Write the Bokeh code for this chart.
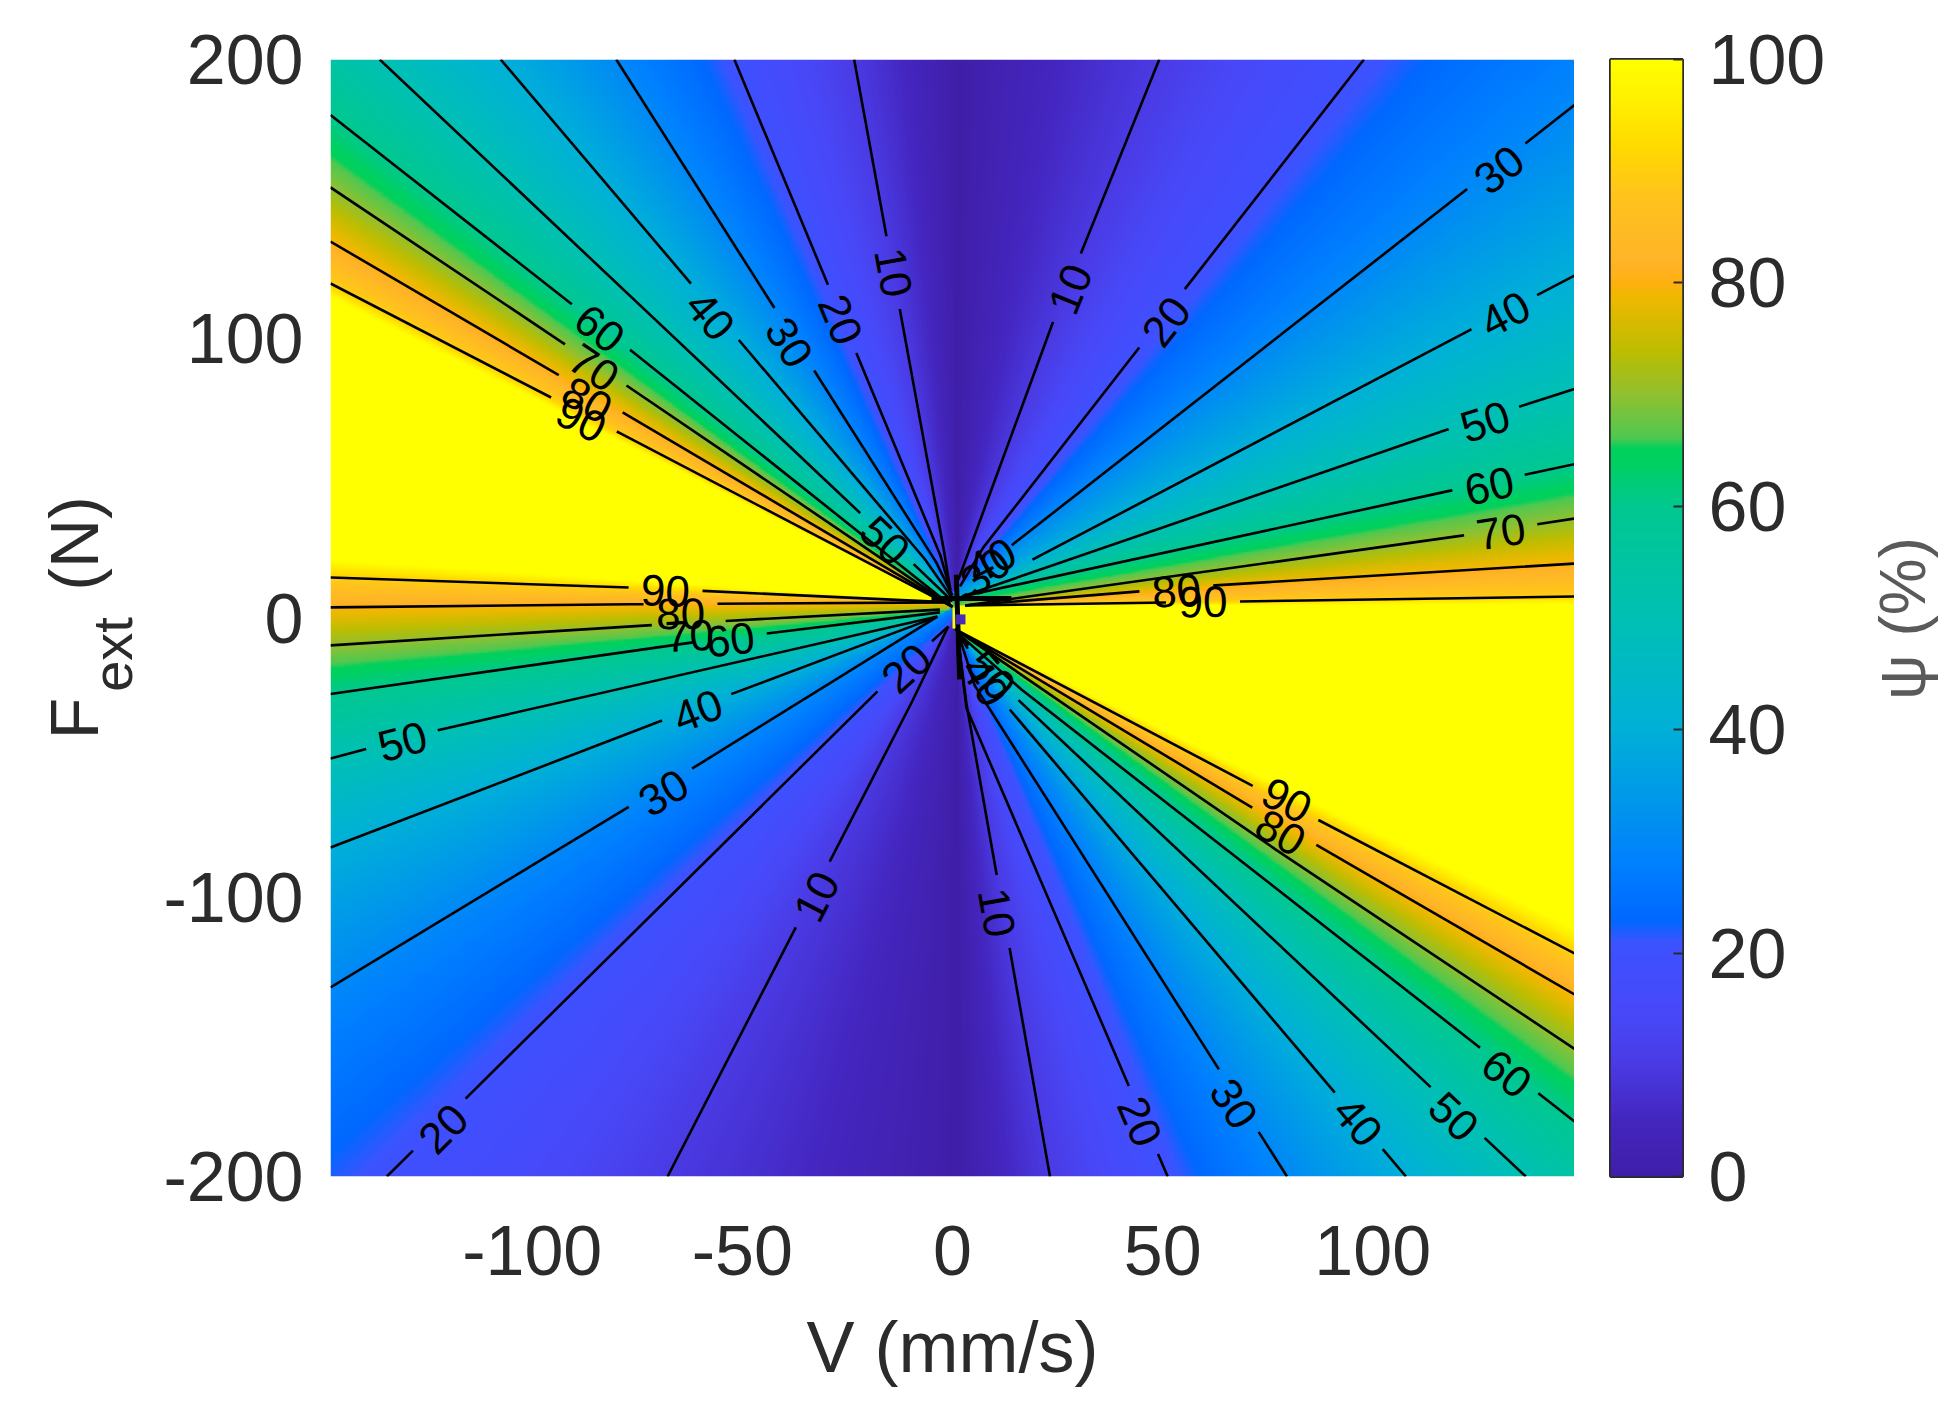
import numpy as np
from bokeh.plotting import figure
from bokeh.layouts import row
from bokeh.models import LinearColorMapper, FixedTicker
from bokeh.core.properties import value
from bokeh.embed import file_html
from bokeh.resources import INLINE

# ---------- data ----------
LEVELS = [10, 20, 30, 40, 50, 60, 70, 80, 90]
XLIM = (-148, 148)
YLIM = (-200, 200)
X_TICKS = [-100, -50, 0, 50, 100]
Y_TICKS = [-200, -100, 0, 100, 200]
CB_TICKS = [0, 20, 40, 60, 80, 100]

# contours per quadrant: border end, point along the way, end near the origin
UL_V = [-23.4, -51.9, -80.0, -107.5, -136.3, -148, -148, -148, -148]
UL_F = [200, 200, 200, 200, 200, 180.1, 154.2, 134.8, 119.8]
UL_MV = [-2.0, -2.9, -3.9, -6.7, -22.2, -76.2, -77.6, -78.5, -79.0]
UL_MF = [23.8, 22.5, 20.0, 21.3, 37.9, 95.4, 83.3, 73.6, 66.1]
UL_IV = [-0.5, -0.5, 0, 0, 0, 0, 0, 0, 0]
UL_IF = [10, 10, 8, 7, 6, 4, 4, 4, 4]

UR_V = [49.2, 97.9, 148, 148, 148, 148, 148, 148, 148]
UR_F = [200, 200, 183.7, 122.6, 82.0, 55.1, 35.6, 19.5, 7.7]
UR_MV = [23.7, 7.3, 14.9, 123.1, 117.4, 118.8, 121.2, 62.5, 67.0]
UR_MF = [105.1, 25.2, 27.0, 103.1, 67.3, 45.7, 29.5, 11.7, 5.9]
UR_IV = [1.4, 1.8, 1.8, 2.3, 2.3, 2.3, 3, 3, 3]
UR_IF = [13.8, 11.3, 11.3, 7.7, 7.7, 7.7, 4.5, 4.5, 4.5]

LR_V = [23.2, 51.2, 79.6, 107.9, 136.4, 148, 148, 148, 148]
LR_F = [-200, -200, -200, -200, -200, -180.3, -154.3, -134.8, -120.1]
LR_MV = [3.3, 3.3, 5.3, 10.2, 13.0, 16.4, 77.1, 71.3, 71.3]
LR_MF = [-30.6, -32.1, -24.2, -26.7, -25.6, -25.6, -83.1, -67.9, -60.0]
LR_IV = [1.4, 1.4, 1.4, 1.4, 1.4, 1.4, 0.6, 0.6, 0.6]
LR_IF = [-8.4, -8.4, -5.6, -5.6, -5.6, -5.6, -4, -4, -4]

LL_V = [-67.8, -134.6, -148, -148, -148, -148, -148, -148, -148]
LL_F = [-200, -200, -132.3, -82.2, -50.3, -27.2, -9.8, 3.8, 14.5]
LL_MV = [-9.6, -17.4, -61.5, -52.9, -122.8, -62.6, -65.9, -76.6, -76.6]
LL_MF = [-29.9, -25.6, -53.5, -27.4, -40.3, -8.9, -2.0, 4.9, 10.9]
LL_IV = [-1, -1, -3.6, -3.6, -3.6, -3, -3, -0.5, -0.5]
LL_IF = [-3, -3, 0.5, 0.5, 0.5, 2, 3, 5.6, 5.6]

# where the field reaches 100 and 0 (no line drawn there)
EDGE100_UL = (-148, 114.8, 0, 4)
EDGE100_L = (-148, 21, -0.5, 5.6)
EDGE100_LR = (148, -111, 0.6, -4)
EDGE100_R = (148, 5, 3, 4.5)
ZERO_UP = (1.2, 200, 1.2, 12)
ZERO_DOWN = (1.2, -200, 1.2, -8)

# contour labels: quadrant, level, position
LAB_Q = ["UL"] * 9 + ["UR"] * 11 + ["LR"] * 10 + ["LL"] * 10
LAB_L = [10, 20, 30, 40, 50, 60, 70, 80, 90,
         10, 20, 30, 40, 50, 60, 70, 80, 90, 30, 40,
         10, 20, 30, 40, 50, 60, 90, 80, 40, 50,
         10, 20, 20, 30, 40, 50, 60, 70, 80, 90]
LAB_V = [-14.0, -26.6, -38.8, -57.6, -16.0, -83.9, -85.3, -86.9, -88.3,
         28.0, 50.8, 130.0, 131.5, 126.7, 127.7, 130.5, 53.3, 59.6, 7.8, 9.2,
         10.6, 44.6, 67.0, 96.5, 119.3, 131.9, 79.6, 78.1, 7.8, 9.2,
         -32.4, -121.2, -11.0, -68.8, -60.6, -130.9, -52.9, -62.6, -64.7, -68.3]
LAB_F = [123.7, 106.9, 98.7, 108.3, 27.8, 103.7, 89.7, 78.2, 71.1,
         117.8, 106.2, 160.6, 108.9, 70.4, 47.4, 31.0, 9.8, 5.9, 16.7, 20.6,
         -105.5, -180.3, -173.9, -180.3, -178.5, -163.1, -65.2, -76.8, -22.7, -20.4,
         -99.7, -182.8, -17.9, -62.5, -33.1, -44.1, -7.7, -6.3, 1.6, 9.8]

# colour bar as read: value, colour
CMAP_AT = [0, 5, 10, 14.4, 20, 21, 22.8, 28, 31.7, 40, 50, 60, 64, 65.2, 66.2, 70, 74, 79, 80, 82, 88, 92, 96, 100]
CMAP_COL = ["#3f1fa8", "#4426c0", "#4a3be4", "#4848f8", "#3f50ff", "#3a54ff", "#0068ff", "#0080ff",
            "#0090f0", "#00b0d8", "#00c0b4", "#00c890", "#00d060", "#00d05c", "#50c850", "#90c030",
            "#bdbd00", "#f0b800", "#ffb010", "#ffb428", "#ffc41c", "#ffd800", "#ffee00", "#ffff00"]

# pile of short contours around the origin
KNOT_V = [[0.9, 1.7], [-5.0, 14.0]]
KNOT_F = [[15.5, -22.0], [7.0, 7.0]]
KNOT_DOT = (1.9, -0.5)

# ---------- layout ----------
FRAME_W, FRAME_H = 1244, 1117
LEFT, TOP, BOTTOM = 330, 59, 215
PAGE_H = TOP + FRAME_H + BOTTOM
LAB_W = 150
TITLE_X, TITLE_W = 1850, 100
SX = FRAME_W / (XLIM[1] - XLIM[0])
SY = FRAME_H / (YLIM[1] - YLIM[0])
FONT = "Liberation Sans"
TXT = "#2b2b2b"
FS = "70px"

QUAD = {"UL": (UL_V, UL_F, UL_MV, UL_MF, UL_IV, UL_IF),
        "UR": (UR_V, UR_F, UR_MV, UR_MF, UR_IV, UR_IF),
        "LR": (LR_V, LR_F, LR_MV, LR_MF, LR_IV, LR_IF),
        "LL": (LL_V, LL_F, LL_MV, LL_MF, LL_IV, LL_IF)}


def hex2rgb(c):
    return np.array([int(c[i:i + 2], 16) for i in (1, 3, 5)], float)


stops = np.array([hex2rgb(c) for c in CMAP_COL])
grid = np.linspace(0, 100, 512)
channels = [np.interp(grid, CMAP_AT, stops[:, k]) for k in range(3)]
palette = ["#%02x%02x%02x" % tuple(int(round(ch[i])) for ch in channels) for i in range(512)]
mapper = LinearColorMapper(palette=palette, low=0, high=100)

# ---------- the field between the contours, going counter-clockwise ----------
fans = [(0, ZERO_UP)]
q = QUAD["UL"]
fans += [(LEVELS[i], (q[0][i], q[1][i], q[4][i], q[5][i])) for i in range(9)]
fans += [(100, EDGE100_UL), (100, EDGE100_L)]
q = QUAD["LL"]
fans += [(LEVELS[i], (q[0][i], q[1][i], q[4][i], q[5][i])) for i in range(8, -1, -1)]
fans += [(0, ZERO_DOWN)]
q = QUAD["LR"]
fans += [(LEVELS[i], (q[0][i], q[1][i], q[4][i], q[5][i])) for i in range(9)]
fans += [(100, EDGE100_LR), (100, EDGE100_R)]
q = QUAD["UR"]
fans += [(LEVELS[i], (q[0][i], q[1][i], q[4][i], q[5][i])) for i in range(8, -1, -1)]
fans += [fans[0]]

NX, NY = 800, 720
gx = (np.arange(NX) + 0.5) / NX * (XLIM[1] - XLIM[0]) + XLIM[0]
gy = (np.arange(NY) + 0.5) / NY * (YLIM[1] - YLIM[0]) + YLIM[0]
GX, GY = np.meshgrid(gx, gy)
field = np.full(GX.shape, 35.0)


def side(r):
    ox, oy, ix, iy = r
    dx, dy = (ox - ix) * SX, (oy - iy) * SY
    n = np.hypot(dx, dy)
    return (dx * (GY - iy) * SY - dy * (GX - ix) * SX) / n


for (pa, ra), (pb, rb) in zip(fans[:-1], fans[1:]):
    da = side(ra)
    db = -side(rb)
    m = (da >= 0) & (db >= 0)
    if ra[0] > 0 and rb[0] > 0:
        m &= GX >= 0
    if ra[0] < 0 and rb[0] < 0:
        m &= GX <= 0
    t = da[m] / np.maximum(da[m] + db[m], 1e-9)
    field[m] = pa + (pb - pa) * t

# ---------- main figure ----------
p = figure(frame_width=FRAME_W, frame_height=FRAME_H, x_range=XLIM, y_range=YLIM,
           output_backend="svg", toolbar_location=None,
           min_border_left=LEFT - LAB_W, min_border_top=TOP, min_border_bottom=BOTTOM, min_border_right=0)
p.grid.visible = False
p.outline_line_color = None
p.image(image=[field], x=XLIM[0], y=YLIM[0], dw=XLIM[1] - XLIM[0], dh=YLIM[1] - YLIM[0],
        color_mapper=mapper)

# contour lines, broken where a label sits
GAP = 37.0
seg_x, seg_y = [], []
txt_x, txt_y, txt_t, txt_a = [], [], [], []
for name, (ov, of, mv, mf, iv, jf) in QUAD.items():
    for i, lev in enumerate(LEVELS):
        px = np.array([ov[i], mv[i], iv[i]]) * SX
        py = np.array([of[i], mf[i], jf[i]]) * SY
        s = np.concatenate([[0], np.cumsum(np.hypot(np.diff(px), np.diff(py)))])
        cuts = []
        for qn, ll, lv, lf in zip(LAB_Q, LAB_L, LAB_V, LAB_F):
            if qn != name or ll != lev:
                continue
            best = None
            for k in range(2):
                ax, ay = px[k], py[k]
                bx, by = px[k + 1], py[k + 1]
                d2 = (bx - ax) ** 2 + (by - ay) ** 2
                u = np.clip(((lv * SX - ax) * (bx - ax) + (lf * SY - ay) * (by - ay)) / d2, 0, 1)
                dist = np.hypot(ax + u * (bx - ax) - lv * SX, ay + u * (by - ay) - lf * SY)
                if best is None or dist < best[0]:
                    best = (dist, s[k] + u * (s[k + 1] - s[k]), np.arctan2(by - ay, bx - ax))
            cuts.append((best[1] - GAP, best[1] + GAP))
            ang = best[2]
            if ang > np.pi / 2:
                ang -= np.pi
            if ang <= -np.pi / 2:
                ang += np.pi
            txt_x.append(lv)
            txt_y.append(lf)
            txt_t.append(str(ll))
            txt_a.append(float(ang))
        cuts.sort()
        start = 0.0
        pieces = []
        for a, b in cuts:
            if a > start:
                pieces.append((start, a))
            start = max(start, b)
        if start < s[-1]:
            pieces.append((start, s[-1]))
        for a, b in pieces:
            keep = s[(s > a) & (s < b)]
            sv = np.concatenate([[a], keep, [b]])
            seg_x.append(list(np.interp(sv, s, px) / SX))
            seg_y.append(list(np.interp(sv, s, py) / SY))

p.multi_line(seg_x, seg_y, line_color="#000000", line_width=2.6)
p.multi_line(KNOT_V, KNOT_F, line_color="#000000", line_width=5)
p.scatter([KNOT_DOT[0]], [KNOT_DOT[1]], marker="square", size=10, fill_color="#4a2bb8", line_color=None)
p.text(txt_x, txt_y, text=txt_t, angle=txt_a, text_align="center", text_baseline="middle",
       text_font_size="44px", text_font=value(FONT), text_color="#000000")

p.xaxis.ticker = FixedTicker(ticks=X_TICKS)
p.yaxis.ticker = FixedTicker(ticks=Y_TICKS)
p.xaxis.major_label_overrides = {t: str(t) for t in X_TICKS}
p.yaxis.major_label_overrides = {t: str(t) for t in Y_TICKS}
for ax in (p.xaxis[0], p.yaxis[0]):
    ax.axis_line_color = None
    ax.major_tick_line_color = None
    ax.minor_tick_line_color = None
    ax.major_label_text_font = FONT
    ax.major_label_text_font_size = FS
    ax.major_label_text_color = TXT
    ax.axis_label_text_font = FONT
    ax.axis_label_text_font_size = "72px"
    ax.axis_label_text_font_style = "normal"
    ax.axis_label_text_color = TXT
p.xaxis[0].major_label_standoff = 43
p.yaxis[0].major_label_standoff = 21
p.xaxis[0].axis_label = "V (mm/s)"
p.xaxis[0].axis_label_standoff = 29


def text_strip(width):
    """A bare strip beside the plot, whose ranges count page pixels, to hold rotated titles."""
    f = figure(frame_width=width, frame_height=PAGE_H, x_range=(0, width), y_range=(PAGE_H, 0),
               output_backend="svg", toolbar_location=None,
               min_border_left=0, min_border_right=0, min_border_top=0, min_border_bottom=0)
    f.axis.visible = False
    f.grid.visible = False
    f.outline_line_color = None
    return f


ylab = text_strip(LAB_W)
for text, sx, sy, size in (("F", 73, 659, "68px"), ("ext", 112, 595, "56px"), ("(N)", 73, 484, "68px")):
    ylab.text([sx], [sy], text=[text], angle=np.pi / 2, text_font=value(FONT), text_font_size=size,
              text_color=TXT, text_baseline="middle", text_align="center")

# ---------- colour bar ----------
bar = figure(frame_width=72, frame_height=FRAME_H, x_range=(0, 1), y_range=(0, 100),
             output_backend="svg", toolbar_location=None, y_axis_location="right",
             min_border_left=36, min_border_top=TOP, min_border_bottom=BOTTOM,
             min_border_right=TITLE_X - 1682)
bar.grid.visible = False
bar.xaxis.visible = False
bar.outline_line_color = "#2b2b2b"
bar.outline_line_width = 3
bar.image(image=[grid.reshape(-1, 1)], x=0, y=0, dw=1, dh=100, color_mapper=mapper)
ya = bar.yaxis[0]
ya.ticker = FixedTicker(ticks=CB_TICKS)
ya.axis_line_color = None
ya.major_tick_in = 9
ya.major_tick_out = 0
ya.major_tick_line_color = "#2b2b2b"
ya.major_tick_line_width = 2
ya.minor_tick_line_color = None
ya.major_label_text_font = FONT
ya.major_label_text_font_size = FS
ya.major_label_text_color = TXT
ya.major_label_standoff = 26

ctitle = text_strip(TITLE_W)
ctitle.text([1902 - TITLE_X], [559], text=["\u03c8 (%)"], angle=np.pi / 2, text_font=value(FONT),
            text_font_size="64px", text_color="#5a5a5a", text_baseline="middle", text_align="center")

layout = row(ylab, p, bar, ctitle)
open("out.html", "w").write(file_html(layout, INLINE))
